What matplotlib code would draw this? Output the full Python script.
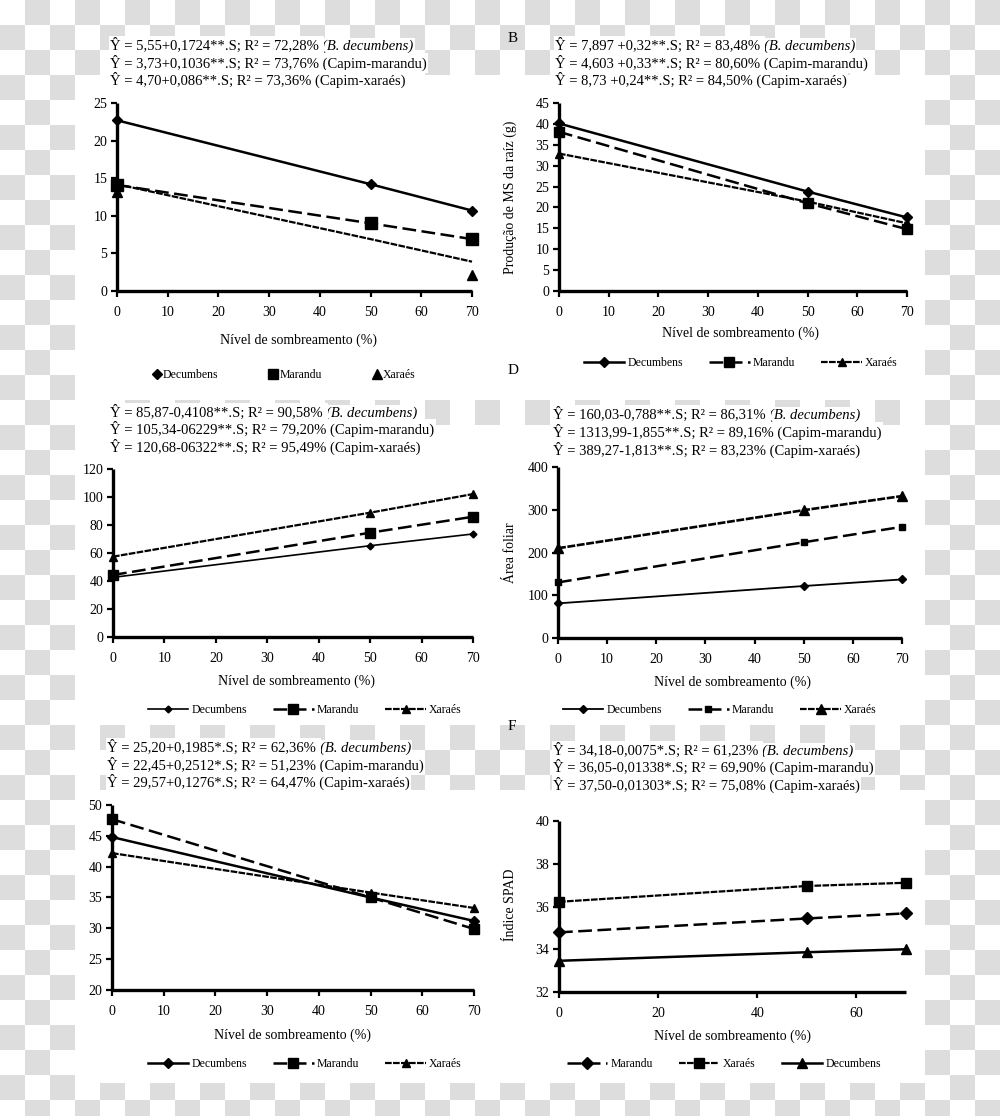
import numpy as np
import matplotlib
matplotlib.use("Agg")
import matplotlib.pyplot as plt
from matplotlib.lines import Line2D
from matplotlib.text import Annotation

# ---------------- data ----------------
SHADE = [0, 50, 70]

A_DEC = [22.7, 14.2, 10.7]
A_MAR = [14.1, 9.0, 6.9]
A_XAR = [13.1, np.nan, 2.1]
A_XAR_FIT = [14.2, 6.9, 3.9]

B_DEC = [40.1, 23.8, 17.6]
B_MAR = [38.1, 21.0, 14.8]
B_XAR = [32.9, 21.4, 16.2]

C_DEC = [42.6, 65.2, 73.6]
C_MAR = [44.3, 74.5, 85.9]
C_XAR = [57.4, 88.8, 102.1]

D_DEC = [81, 121.6, 137]
D_MAR = [130, 224, 260]
D_XAR = [210, 299, 332]

E_DEC = [44.8, 35.0, 31.2]
E_MAR = [47.7, 35.0, 29.9]
E_XAR = [42.2, 35.8, 33.3]

F_MAR = [34.79, 35.44, 35.68]
F_XAR = [36.22, 36.96, 37.11]
F_DEC = [33.46, 33.86, 34.0]

XLABEL = "Nível de sombreamento (%)"

EQ_A = [("Ŷ = 5,55+0,1724**.S; R² = 72,28% ", "(B. decumbens)"),
        ("Ŷ = 3,73+0,1036**.S; R² = 73,76% (Capim-marandu)", ""),
        ("Ŷ = 4,70+0,086**.S; R² = 73,36% (Capim-xaraés)", "")]
EQ_B = [("Ŷ = 7,897 +0,32**.S; R² = 83,48% ", "(B. decumbens)"),
        ("Ŷ = 4,603 +0,33**.S; R² = 80,60% (Capim-marandu)", ""),
        ("Ŷ = 8,73 +0,24**.S; R² = 84,50% (Capim-xaraés)", "")]
EQ_C = [("Ŷ = 85,87-0,4108**.S; R² = 90,58% ", "(B. decumbens)"),
        ("Ŷ = 105,34-06229**.S; R² = 79,20% (Capim-marandu)", ""),
        ("Ŷ = 120,68-06322**.S; R² = 95,49% (Capim-xaraés)", "")]
EQ_D = [("Ŷ = 160,03-0,788**.S; R² = 86,31% ", "(B. decumbens)"),
        ("Ŷ = 1313,99-1,855**.S; R² = 89,16% (Capim-marandu)", ""),
        ("Ŷ = 389,27-1,813**.S; R² = 83,23% (Capim-xaraés)", "")]
EQ_E = [("Ŷ = 25,20+0,1985*.S; R² = 62,36% ", "(B. decumbens)"),
        ("Ŷ = 22,45+0,2512*.S; R² = 51,23% (Capim-marandu)", ""),
        ("Ŷ = 29,57+0,1276*.S; R² = 64,47% (Capim-xaraés)", "")]
EQ_F = [("Ŷ = 34,18-0,0075*.S; R² = 61,23% ", "(B. decumbens)"),
        ("Ŷ = 36,05-0,01338*.S; R² = 69,90% (Capim-marandu)", ""),
        ("Ŷ = 37,50-0,01303*.S; R² = 75,08% (Capim-xaraés)", "")]

# ---------------- style ----------------
FONT = "Liberation Serif"
plt.rcParams["font.family"] = [FONT, "DejaVu Serif"]
W, H = 1000, 1116
fig = plt.figure(figsize=(W / 100, H / 100), dpi=100)

# checkerboard "transparency" background
yy, xx = np.mgrid[0:H, 0:W]
checker = ((yy // 25 + xx // 25) % 2 == 1)
show = np.ones((H, W), bool)
show[75:1083, 75:925] = False
show[400:425, 100:925] = True
show[725:790, 100:925] = True
bg = np.ones((H, W))
bg[checker & show] = 0.865
fig.figimage(bg, cmap="gray", vmin=0, vmax=1, origin="upper", zorder=-10)

SOLID = "-"
DASH = (0, (5.5, 2.2))
DOT = (0, (3.0, 0.6))
EQ_FS = 10.5
TICK_FS = 10
LAB_FS = 10
LEG_FS = 8.5


def fxy(x, y):
    return x / W, 1 - y / H


def make_ax(x0, x1, ytop, ybot, ylim, yticks, xticks=(0, 10, 20, 30, 40, 50, 60, 70)):
    ax = fig.add_axes([x0 / W, 1 - ybot / H, (x1 - x0) / W, (ybot - ytop) / H])
    ax.set_facecolor("none")
    ax.set_xlim(0, 70)
    ax.set_ylim(*ylim)
    ax.set_xticks(list(xticks))
    ax.set_yticks(list(yticks))
    for s in ("top", "right"):
        ax.spines[s].set_visible(False)
    for s in ("left", "bottom"):
        ax.spines[s].set_linewidth(2.4)
        ax.spines[s].set_capstyle("butt")
    ax.tick_params(axis="both", direction="out", length=4, width=1.6,
                   labelsize=TICK_FS)
    ax.tick_params(axis="x", pad=7)
    ax.tick_params(axis="y", pad=3)
    return ax


def xlabel(ax, cx, cy):
    ax.set_xlabel(XLABEL, fontsize=LAB_FS)
    ax.xaxis.label.set_va("center")
    ax.xaxis.set_label_coords(*fxy(cx, cy), transform=fig.transFigure)


def ylabel(ax, text, cx, cy):
    ax.set_ylabel(text, fontsize=LAB_FS)
    ax.yaxis.label.set_va("center")
    ax.yaxis.set_label_coords(*fxy(cx, cy), transform=fig.transFigure)


def series(ax, y, ls, marker, ms, lw=1.8, yfit=None):
    yl = y if yfit is None else yfit
    ax.plot(SHADE, yl, ls=ls, color="black", lw=lw, clip_on=False, zorder=3)
    ax.plot(SHADE, y, ls="none", marker=marker, ms=ms, color="black",
            clip_on=False, zorder=4)


def equations(eqs, x, ys):
    for (plain, ital), y in zip(eqs, ys):
        t = fig.text(*fxy(x, y), plain, fontsize=EQ_FS, va="center", ha="left",
                     bbox=dict(fc="white", ec="none", pad=1.0))
        if ital:
            a = Annotation(ital, xy=(1, 0), xycoords=t, va="bottom", ha="left",
                           fontsize=EQ_FS, style="italic", annotation_clip=False,
                           bbox=dict(fc="white", ec="none", pad=1.0))
            fig.add_artist(a)


def line_legend(specs, cx, cy):
    handles = [Line2D([], [], color="black", ls=ls, lw=lw, marker=m, ms=ms)
               for (_, ls, m, ms, lw) in specs]
    labels = [s[0] for s in specs]
    fig.legend(handles, labels, loc="center", bbox_to_anchor=fxy(cx, cy), ncol=3,
               frameon=False, fontsize=LEG_FS, handlelength=3.4, handletextpad=0.3,
               columnspacing=2.2, borderpad=0, borderaxespad=0)


# ---------------- panel A ----------------
axA = make_ax(117, 472, 103, 291, (0, 25), range(0, 26, 5))
series(axA, A_DEC, SOLID, "D", 5.5)
series(axA, A_MAR, DASH, "s", 8)
series(axA, A_XAR, DOT, "^", 7, lw=1.6, yfit=A_XAR_FIT)
xlabel(axA, 299, 340)
equations(EQ_A, 110, [45, 63, 80])
hA = [Line2D([], [], ls="none", marker=m, ms=ms, color="black")
      for m, ms in (("D", 5.5), ("s", 7), ("^", 7))]
fig.legend(hA, ["Decumbens", "Marandu", "Xaraés"], loc="center",
           bbox_to_anchor=fxy(284, 375), ncol=3, frameon=False, fontsize=LEG_FS,
           handlelength=0.7, handletextpad=0.15, columnspacing=4.3,
           borderpad=0, borderaxespad=0)

# ---------------- panel B ----------------
axB = make_ax(559, 907, 103, 291, (0, 45), range(0, 46, 5))
series(axB, B_DEC, SOLID, "D", 5)
series(axB, B_MAR, DASH, "s", 7.5)
series(axB, B_XAR, DOT, "^", 6, lw=1.6)
xlabel(axB, 740, 333)
ylabel(axB, "Produção de MS da raíz (g)", 510, 197)
equations(EQ_B, 555, [45, 63, 80])
fig.text(*fxy(513, 39), "B", fontsize=11, ha="center", va="center")
line_legend([("Decumbens", SOLID, "D", 5, 1.8), ("Marandu", DASH, "s", 7, 1.8),
             ("Xaraés", DOT, "^", 6, 1.6)], 741, 363)
fig.text(*fxy(513, 370), "D", fontsize=11, ha="center", va="center")

# ---------------- panel C ----------------
axC = make_ax(113, 473, 469, 637, (0, 120), range(0, 121, 20))
series(axC, C_DEC, SOLID, "D", 3.5, lw=1.2)
series(axC, C_MAR, DASH, "s", 7.5)
series(axC, C_XAR, DOT, "^", 6, lw=1.6)
xlabel(axC, 296, 681)
equations(EQ_C, 110, [412, 429, 447])
line_legend([("Decumbens", SOLID, "D", 3.5, 1.2), ("Marandu", DASH, "s", 7, 1.8),
             ("Xaraés", DOT, "^", 6, 1.6)], 305, 710)

# ---------------- panel D ----------------
axD = make_ax(558, 902, 467, 638, (0, 400), range(0, 401, 100))
series(axD, D_DEC, SOLID, "D", 4, lw=1.3)
series(axD, D_MAR, DASH, "s", 5)
series(axD, D_XAR, DOT, "^", 7, lw=1.9)
xlabel(axD, 732, 682)
ylabel(axD, "Área foliar", 510, 553)
equations(EQ_D, 553, [414, 432, 450])
line_legend([("Decumbens", SOLID, "D", 4, 1.3), ("Marandu", DASH, "s", 5, 1.8),
             ("Xaraés", DOT, "^", 7, 1.6)], 720, 710)
fig.text(*fxy(512, 727), "F", fontsize=11, ha="center", va="center")

# ---------------- panel E ----------------
axE = make_ax(112, 474, 805, 990, (20, 50), range(20, 51, 5))
series(axE, E_DEC, SOLID, "D", 5)
series(axE, E_MAR, DASH, "s", 7.5)
series(axE, E_XAR, DOT, "^", 6, lw=1.6)
xlabel(axE, 292, 1035)
equations(EQ_E, 107, [747, 765, 782])
line_legend([("Decumbens", SOLID, "D", 5, 1.8), ("Marandu", DASH, "s", 7, 1.8),
             ("Xaraés", DOT, "^", 6, 1.6)], 305, 1064)

# ---------------- panel F ----------------
axF = make_ax(559, 906, 821, 992, (32, 40), range(32, 41, 2), xticks=(0, 20, 40, 60))
series(axF, F_MAR, DASH, "D", 6)
series(axF, F_XAR, DOT, "s", 7, lw=1.6)
series(axF, F_DEC, SOLID, "^", 7)
xlabel(axF, 733, 1036)
ylabel(axF, "Índice SPAD", 510, 905)
equations(EQ_F, 553, [750, 767, 785])
line_legend([("Marandu", DASH, "D", 6, 1.8), ("Xaraés", DOT, "s", 6.5, 1.6),
             ("Decumbens", SOLID, "^", 6.5, 1.8)], 724, 1064)

fig.savefig("out.png", dpi=100)
